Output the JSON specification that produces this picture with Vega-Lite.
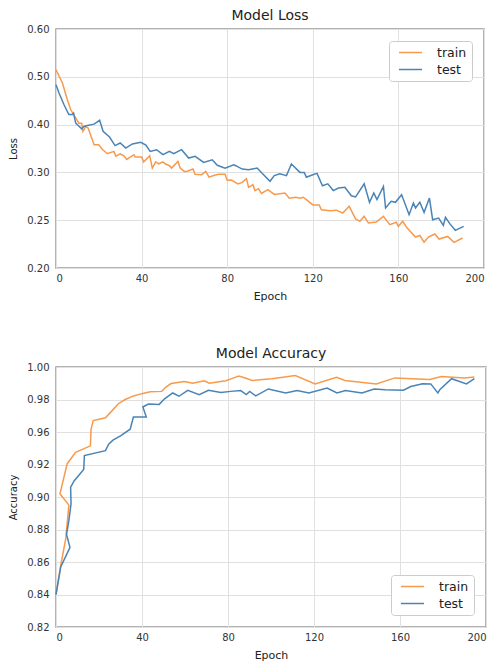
{
  "$schema": "https://vega.github.io/schema/vega-lite/v6.json",
  "padding": {"left": 7, "top": 8, "right": 5, "bottom": 2},
  "background": "white",
  "spacing": 44,
  "config": {
    "font": "DejaVu Sans",
    "view": {"stroke": "#9a9a9a", "strokeWidth": 1.5},
    "axis": {
      "labelFontSize": 10,
      "labelColor": "#333333",
      "titleFontWeight": "normal",
      "titleColor": "#222222",
      "ticks": false,
      "domain": false,
      "gridColor": "#e0e0e0",
      "gridWidth": 1
    },
    "axisX": {"titleFontSize": 11, "labelPadding": 5, "titlePadding": 7},
    "axisY": {"titleFontSize": 10, "labelPadding": 7, "titlePadding": 8},
    "title": {"fontSize": 14, "fontWeight": "normal", "color": "#222222", "offset": 1},
    "legend": {
      "strokeColor": "#cccccc",
      "fillColor": "white",
      "cornerRadius": 3,
      "padding": 5,
      "labelFontSize": 12.5,
      "labelColor": "#222222",
      "symbolType": "M-2.1,0L2.1,0",
      "symbolStrokeWidth": 1.5,
      "symbolSize": 121,
      "symbolOffset": 10,
      "rowPadding": 4,
      "labelOffset": 20
    }
  },
  "datasets": {
    "loss": [
      {"s":"train","e":0,"v":0.515},{"s":"train","e":3,"v":0.487},{"s":"train","e":5.3,"v":0.452},{"s":"train","e":6.9,"v":0.431},{"s":"train","e":9.2,"v":0.414},{"s":"train","e":10.7,"v":0.403},{"s":"train","e":12,"v":0.403},{"s":"train","e":12.6,"v":0.386},{"s":"train","e":13.9,"v":0.396},{"s":"train","e":15,"v":0.393},{"s":"train","e":17.8,"v":0.358},{"s":"train","e":20,"v":0.358},{"s":"train","e":21.7,"v":0.348},{"s":"train","e":24,"v":0.339},{"s":"train","e":27,"v":0.344},{"s":"train","e":28,"v":0.334},{"s":"train","e":30,"v":0.339},{"s":"train","e":31.8,"v":0.334},{"s":"train","e":33,"v":0.327},{"s":"train","e":36.4,"v":0.337},{"s":"train","e":37,"v":0.332},{"s":"train","e":40,"v":0.332},{"s":"train","e":41,"v":0.322},{"s":"train","e":43.8,"v":0.335},{"s":"train","e":45,"v":0.309},{"s":"train","e":46.6,"v":0.322},{"s":"train","e":48,"v":0.318},{"s":"train","e":50,"v":0.322},{"s":"train","e":51,"v":0.318},{"s":"train","e":53,"v":0.314},{"s":"train","e":54,"v":0.309},{"s":"train","e":57,"v":0.323},{"s":"train","e":58,"v":0.309},{"s":"train","e":60,"v":0.302},{"s":"train","e":61,"v":0.302},{"s":"train","e":64,"v":0.307},{"s":"train","e":65,"v":0.298},{"s":"train","e":68,"v":0.2976},{"s":"train","e":70,"v":0.302},{"s":"train","e":71.5,"v":0.295},{"s":"train","e":74,"v":0.297},{"s":"train","e":76,"v":0.298},{"s":"train","e":79,"v":0.298},{"s":"train","e":80,"v":0.2917},{"s":"train","e":82,"v":0.292},{"s":"train","e":85,"v":0.288},{"s":"train","e":87,"v":0.2896},{"s":"train","e":89,"v":0.2935},{"s":"train","e":90,"v":0.2844},{"s":"train","e":92,"v":0.2872},{"s":"train","e":93,"v":0.281},{"s":"train","e":94.6,"v":0.283},{"s":"train","e":96,"v":0.278},{"s":"train","e":99,"v":0.282},{"s":"train","e":102,"v":0.277},{"s":"train","e":107,"v":0.2785},{"s":"train","e":109,"v":0.273},{"s":"train","e":112,"v":0.274},{"s":"train","e":114,"v":0.273},{"s":"train","e":115.5,"v":0.274},{"s":"train","e":117,"v":0.2715},{"s":"train","e":120,"v":0.266},{"s":"train","e":123,"v":0.266},{"s":"train","e":124,"v":0.261},{"s":"train","e":128,"v":0.26},{"s":"train","e":131,"v":0.2605},{"s":"train","e":134,"v":0.2575},{"s":"train","e":137,"v":0.2645},{"s":"train","e":140,"v":0.2513},{"s":"train","e":142,"v":0.2488},{"s":"train","e":144,"v":0.254},{"s":"train","e":146,"v":0.247},{"s":"train","e":149.6,"v":0.248},{"s":"train","e":153,"v":0.254},{"s":"train","e":156,"v":0.2453},{"s":"train","e":159,"v":0.2478},{"s":"train","e":160,"v":0.2436},{"s":"train","e":162,"v":0.2488},{"s":"train","e":164,"v":0.242},{"s":"train","e":168,"v":0.2324},{"s":"train","e":170,"v":0.234},{"s":"train","e":172,"v":0.227},{"s":"train","e":174,"v":0.2324},{"s":"train","e":177,"v":0.2356},{"s":"train","e":179,"v":0.2303},{"s":"train","e":183,"v":0.233},{"s":"train","e":186,"v":0.2268},{"s":"train","e":190,"v":0.2314},
      {"s":"test","e":0,"v":0.4835},{"s":"test","e":1.4,"v":0.466},{"s":"test","e":3.7,"v":0.442},{"s":"test","e":6,"v":0.421},{"s":"test","e":7.6,"v":0.421},{"s":"test","e":8.2,"v":0.424},{"s":"test","e":9.2,"v":0.403},{"s":"test","e":10.4,"v":0.398},{"s":"test","e":12,"v":0.391},{"s":"test","e":13,"v":0.396},{"s":"test","e":14.6,"v":0.398},{"s":"test","e":17.8,"v":0.401},{"s":"test","e":20.4,"v":0.409},{"s":"test","e":22,"v":0.386},{"s":"test","e":25,"v":0.374},{"s":"test","e":27.6,"v":0.356},{"s":"test","e":30,"v":0.3615},{"s":"test","e":32.6,"v":0.351},{"s":"test","e":35.7,"v":0.3595},{"s":"test","e":39.6,"v":0.363},{"s":"test","e":42,"v":0.357},{"s":"test","e":44,"v":0.344},{"s":"test","e":47,"v":0.3475},{"s":"test","e":50,"v":0.337},{"s":"test","e":53,"v":0.344},{"s":"test","e":55,"v":0.339},{"s":"test","e":58.7,"v":0.3475},{"s":"test","e":62,"v":0.33},{"s":"test","e":65,"v":0.3335},{"s":"test","e":69,"v":0.321},{"s":"test","e":73,"v":0.3265},{"s":"test","e":75.4,"v":0.3148},{"s":"test","e":79,"v":0.309},{"s":"test","e":83,"v":0.316},{"s":"test","e":84,"v":0.314},{"s":"test","e":87,"v":0.307},{"s":"test","e":90,"v":0.3057},{"s":"test","e":94,"v":0.309},{"s":"test","e":97,"v":0.2976},{"s":"test","e":100,"v":0.2907},{"s":"test","e":102,"v":0.2966},{"s":"test","e":104.6,"v":0.2986},{"s":"test","e":107.7,"v":0.2966},{"s":"test","e":110,"v":0.3176},{"s":"test","e":114,"v":0.3},{"s":"test","e":116,"v":0.3},{"s":"test","e":117,"v":0.295},{"s":"test","e":120,"v":0.2976},{"s":"test","e":122,"v":0.299},{"s":"test","e":124.5,"v":0.286},{"s":"test","e":127,"v":0.288},{"s":"test","e":129.6,"v":0.281},{"s":"test","e":132,"v":0.2837},{"s":"test","e":135,"v":0.2845},{"s":"test","e":138,"v":0.2756},{"s":"test","e":140,"v":0.2743},{"s":"test","e":144,"v":0.288},{"s":"test","e":146.5,"v":0.2687},{"s":"test","e":148.5,"v":0.2784},{"s":"test","e":150,"v":0.2715},{"s":"test","e":153,"v":0.2854},{"s":"test","e":154,"v":0.2628},{"s":"test","e":156.6,"v":0.2697},{"s":"test","e":158.6,"v":0.2687},{"s":"test","e":161.5,"v":0.2767},{"s":"test","e":165,"v":0.2558},{"s":"test","e":167,"v":0.268},{"s":"test","e":168,"v":0.2628},{"s":"test","e":170,"v":0.2687},{"s":"test","e":172,"v":0.2582},{"s":"test","e":174.5,"v":0.2732},{"s":"test","e":176,"v":0.2505},{"s":"test","e":178.8,"v":0.2523},{"s":"test","e":181,"v":0.2446},{"s":"test","e":182,"v":0.253},{"s":"test","e":184,"v":0.2464},{"s":"test","e":186.6,"v":0.2394},{"s":"test","e":190.5,"v":0.2436}
    ],
    "acc": [
      {"s":"train","i":1,"e":0,"v":0.84},{"s":"train","i":2,"e":2.2,"v":0.858},{"s":"train","i":3,"e":4.5,"v":0.874},{"s":"train","i":4,"e":6,"v":0.895},{"s":"train","i":5,"e":1.85,"v":0.902},{"s":"train","i":6,"e":5.2,"v":0.921},{"s":"train","i":7,"e":9.1,"v":0.935},{"s":"train","i":8,"e":16,"v":0.943},{"s":"train","i":9,"e":16.3,"v":0.9617},{"s":"train","i":10,"e":17.3,"v":0.967},{"s":"train","i":11,"e":23,"v":0.9688},{"s":"train","i":12,"e":26,"v":0.973},{"s":"train","i":13,"e":29,"v":0.9774},{"s":"train","i":14,"e":32.2,"v":0.98},{"s":"train","i":15,"e":36,"v":0.9822},{"s":"train","i":16,"e":39.9,"v":0.9836},{"s":"train","i":17,"e":43.8,"v":0.9848},{"s":"train","i":18,"e":49.2,"v":0.985},{"s":"train","i":19,"e":51,"v":0.9875},{"s":"train","i":20,"e":53.5,"v":0.9898},{"s":"train","i":21,"e":59.7,"v":0.991},{"s":"train","i":22,"e":63.6,"v":0.99},{"s":"train","i":23,"e":69,"v":0.9915},{"s":"train","i":24,"e":71.3,"v":0.99},{"s":"train","i":25,"e":79,"v":0.9915},{"s":"train","i":26,"e":82,"v":0.993},{"s":"train","i":27,"e":85.1,"v":0.9945},{"s":"train","i":28,"e":88,"v":0.9932},{"s":"train","i":29,"e":91.3,"v":0.9917},{"s":"train","i":30,"e":100.5,"v":0.9928},{"s":"train","i":31,"e":111.3,"v":0.9948},{"s":"train","i":32,"e":120.5,"v":0.9896},{"s":"train","i":33,"e":130.5,"v":0.9937},{"s":"train","i":34,"e":134.4,"v":0.9917},{"s":"train","i":35,"e":149,"v":0.9896},{"s":"train","i":36,"e":157.6,"v":0.9933},{"s":"train","i":37,"e":173.8,"v":0.9923},{"s":"train","i":38,"e":179.2,"v":0.9942},{"s":"train","i":39,"e":190,"v":0.9932},{"s":"train","i":40,"e":194.6,"v":0.9938},
      {"s":"test","i":1,"e":0,"v":0.84},{"s":"test","i":2,"e":2.2,"v":0.857},{"s":"test","i":3,"e":6.5,"v":0.869},{"s":"test","i":4,"e":4.9,"v":0.877},{"s":"test","i":5,"e":6,"v":0.8856},{"s":"test","i":6,"e":7,"v":0.8958},{"s":"test","i":7,"e":6.8,"v":0.906},{"s":"test","i":8,"e":8.5,"v":0.91},{"s":"test","i":9,"e":12.9,"v":0.917},{"s":"test","i":10,"e":13.2,"v":0.931},{"s":"test","i":11,"e":23,"v":0.937},{"s":"test","i":12,"e":24.5,"v":0.945},{"s":"test","i":13,"e":26.5,"v":0.95},{"s":"test","i":14,"e":30,"v":0.9552},{"s":"test","i":15,"e":34.5,"v":0.9617},{"s":"test","i":16,"e":36,"v":0.9692},{"s":"test","i":17,"e":42,"v":0.9692},{"s":"test","i":18,"e":40.4,"v":0.9754},{"s":"test","i":19,"e":43,"v":0.9772},{"s":"test","i":20,"e":48,"v":0.977},{"s":"test","i":21,"e":50.5,"v":0.9804},{"s":"test","i":22,"e":54.3,"v":0.984},{"s":"test","i":23,"e":57.2,"v":0.982},{"s":"test","i":24,"e":61.3,"v":0.9856},{"s":"test","i":25,"e":66.6,"v":0.983},{"s":"test","i":26,"e":70.9,"v":0.9857},{"s":"test","i":27,"e":76.7,"v":0.9843},{"s":"test","i":28,"e":81.3,"v":0.985},{"s":"test","i":29,"e":85.9,"v":0.9855},{"s":"test","i":30,"e":88.5,"v":0.983},{"s":"test","i":31,"e":90.1,"v":0.985},{"s":"test","i":32,"e":92.9,"v":0.9822},{"s":"test","i":33,"e":98.8,"v":0.9865},{"s":"test","i":34,"e":106.8,"v":0.984},{"s":"test","i":35,"e":112.2,"v":0.9855},{"s":"test","i":36,"e":117.6,"v":0.984},{"s":"test","i":37,"e":126.1,"v":0.987},{"s":"test","i":38,"e":130.7,"v":0.984},{"s":"test","i":39,"e":134.6,"v":0.9855},{"s":"test","i":40,"e":142.3,"v":0.984},{"s":"test","i":41,"e":148,"v":0.9864},{"s":"test","i":42,"e":153.1,"v":0.986},{"s":"test","i":43,"e":161.6,"v":0.9857},{"s":"test","i":44,"e":165,"v":0.988},{"s":"test","i":45,"e":170.5,"v":0.9897},{"s":"test","i":46,"e":174.3,"v":0.9896},{"s":"test","i":47,"e":177.6,"v":0.984},{"s":"test","i":48,"e":178.6,"v":0.9862},{"s":"test","i":49,"e":184,"v":0.9928},{"s":"test","i":50,"e":190.9,"v":0.9896},{"s":"test","i":51,"e":194.6,"v":0.9928}
    ]
  },
  "vconcat": [
    {
      "title": "Model Loss",
      "width": 428,
      "height": 239,
      "data": {"name": "loss"},
      "mark": {"type": "line", "strokeWidth": 1.5},
      "encoding": {
        "x": {"field": "e", "type": "quantitative", "scale": {"domain": [0, 200], "nice": false}, "axis": {"values": [0, 40, 80, 120, 160, 200], "title": "Epoch"}},
        "y": {"field": "v", "type": "quantitative", "scale": {"domain": [0.2, 0.3, 0.6], "range": [239, 143.4, 0], "nice": false, "zero": false}, "axis": {"values": [0.2, 0.25, 0.3, 0.4, 0.5, 0.6], "format": ".2f", "title": "Loss"}},
        "color": {"field": "s", "type": "nominal", "scale": {"domain": ["train", "test"], "range": ["#f89a4c", "#4a84b6"]}, "legend": {"title": null, "orient": "top-right", "offset": 12}}
      }
    },
    {
      "title": "Model Accuracy",
      "width": 430,
      "height": 260,
      "data": {"name": "acc"},
      "mark": {"type": "line", "strokeWidth": 1.5},
      "encoding": {
        "x": {"field": "e", "type": "quantitative", "scale": {"domain": [0, 200], "nice": false}, "axis": {"values": [0, 40, 80, 120, 160, 200], "title": "Epoch"}},
        "y": {"field": "v", "type": "quantitative", "scale": {"domain": [0.82, 0.92, 0.96, 1.0], "range": [260, 97.5, 65, 0], "nice": false, "zero": false}, "axis": {"values": [0.82, 0.84, 0.86, 0.88, 0.9, 0.92, 0.96, 0.98, 1.0], "format": ".2f", "title": "Accuracy"}},
        "order": {"field": "i", "type": "quantitative"},
        "color": {"field": "s", "type": "nominal", "scale": {"domain": ["train", "test"], "range": ["#f89a4c", "#4a84b6"]}, "legend": {"title": null, "orient": "bottom-right", "offset": 12}}
      }
    }
  ]
}
